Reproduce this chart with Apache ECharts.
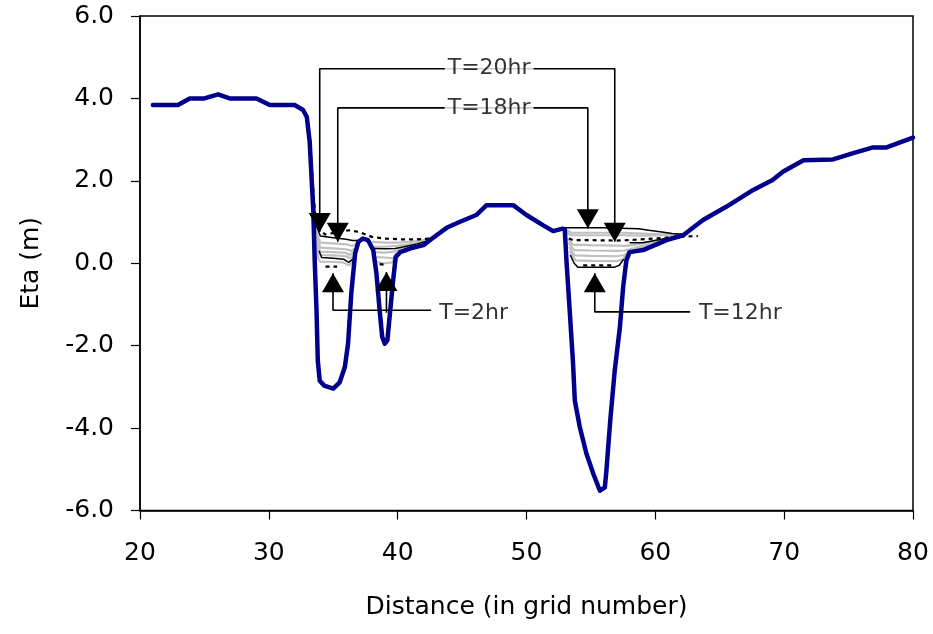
<!DOCTYPE html>
<html><head><meta charset="utf-8">
<script src="https://cdn.jsdelivr.net/npm/echarts@6/dist/echarts.min.js"></script>
<style>html,body{margin:0;padding:0;background:#fff}#c{width:933px;height:634px}</style>
</head><body><div id="c"></div>
<script>
// ---- bed profile ----
const bedDistance = [21.0,22.95,23.86,25.0,26.06,26.96,29.04,30.07,32.0,32.66,32.95,33.17,33.45,33.56,33.7,33.8,33.95,34.3,35.0,35.5,35.9,36.15,36.4,36.7,36.95,37.3,37.7,38.1,38.35,38.6,38.8,39.0,39.2,39.4,39.65,39.85,40.2,41.0,42.0,42.75,43.8,44.8,46.1,46.9,48.96,50.0,51.3,52.07,52.8,52.97,53.1,53.35,53.6,53.75,54.14,54.66,55.2,55.7,56.08,56.2,56.5,56.85,57.25,57.5,57.75,58.0,59.05,60.87,62.16,63.7,65.5,67.6,69.1,69.9,71.5,73.8,75.36,76.9,77.95,80.0];
const bedEta = [3.84,3.84,4.0,4.0,4.1,4.0,4.0,3.84,3.84,3.72,3.55,2.95,1.29,0.07,-1.14,-2.36,-2.85,-2.97,-3.04,-2.89,-2.52,-1.95,-0.73,0.24,0.52,0.6,0.56,0.32,-0.24,-1.14,-1.79,-1.95,-1.87,-1.22,-0.41,0.15,0.27,0.36,0.44,0.62,0.86,1.0,1.17,1.41,1.41,1.17,0.92,0.78,0.84,0.82,0.07,-1.14,-2.36,-3.33,-3.98,-4.63,-5.12,-5.52,-5.44,-5.04,-3.82,-2.6,-1.55,-0.58,0.07,0.27,0.32,0.56,0.68,1.05,1.37,1.78,2.02,2.22,2.5,2.52,2.67,2.81,2.81,3.05];

// ---- water-level snapshots (gray) ----
const grayLeft1 = [[33.45,1.8],[33.7,0.75],[34.0,0.5],[35.0,0.48],[36.0,0.46],[36.5,0.42],[36.9,0.5]];
const grayLeft2 = [[33.5,1.4],[33.75,0.6],[34.0,0.38],[35.0,0.36],[36.0,0.34],[36.4,0.3],[36.8,0.38]];
const grayLeft3 = [[33.55,1.0],[33.8,0.45],[34.0,0.28],[35.0,0.27],[36.0,0.25],[36.3,0.2],[36.75,0.3]];
const grayLeft4 = [[33.6,0.8],[33.8,0.3],[34.0,0.2],[35.0,0.19],[36.0,0.17],[36.3,0.12],[36.7,0.2]];
const grayLeft5 = [[33.6,0.6],[33.85,0.1],[34.0,0.04],[35.0,0.03],[35.8,0.02],[36.2,-0.05],[36.6,0.05]];
const grayMid1 = [[38.0,0.52],[39.0,0.5],[40.0,0.5],[41.0,0.52],[42.0,0.56],[42.9,0.64]];
const grayMid2 = [[38.1,0.4],[39.0,0.4],[39.9,0.42],[41.0,0.46],[42.0,0.52],[42.8,0.62]];
const grayMid3 = [[38.2,0.27],[39.0,0.26],[39.7,0.28],[40.5,0.38],[41.5,0.46],[42.6,0.6]];
const grayMid4 = [[38.25,0.15],[39.0,0.14],[39.7,0.12],[39.9,0.25]];
const grayMid5 = [[38.3,0.03],[39.0,0.0],[39.6,0.02],[39.8,0.15]];
const grayRight1 = [[53.1,0.8],[53.5,0.74],[55.0,0.74],[57.5,0.74],[59.0,0.72],[60.5,0.7],[62.0,0.7]];
const grayRight2 = [[53.1,0.74],[53.5,0.68],[55.0,0.68],[57.5,0.68],[59.0,0.67],[60.5,0.68],[62.0,0.7]];
const grayRight3 = [[53.2,0.6],[53.6,0.45],[55.0,0.44],[57.0,0.43],[57.7,0.42],[58.5,0.45],[60.0,0.55],[61.5,0.64],[62.3,0.7]];
const grayRight4 = [[53.25,0.5],[53.7,0.32],[55.0,0.31],[57.0,0.3],[57.6,0.31],[58.3,0.36],[60.0,0.5],[61.5,0.62],[62.3,0.69]];
const grayRight5 = [[53.3,0.4],[53.75,0.19],[55.0,0.18],[57.0,0.17],[57.6,0.2],[58.1,0.32],[60.0,0.5],[62.2,0.69]];
const grayRight6 = [[53.35,0.3],[53.8,0.07],[55.0,0.06],[57.0,0.05],[57.5,0.1],[57.9,0.3]];

// ---- water-level snapshots (black solid) ----
const blackLeftTop = [[33.7,0.9],[34.0,0.66],[35.0,0.62],[36.0,0.58],[36.5,0.55],[36.95,0.55]];
const blackLeftLow = [[33.9,0.3],[34.1,0.14],[35.0,0.12],[35.8,0.1],[36.2,0.02],[36.6,0.12]];
const blackMid = [[38.15,0.36],[39.0,0.35],[39.8,0.36],[40.5,0.4],[41.5,0.47],[42.5,0.56],[43.0,0.64]];
const blackRightTop = [[52.9,0.86],[54.0,0.86],[56.0,0.86],[58.7,0.84],[59.5,0.8],[60.5,0.76],[61.3,0.72],[62.3,0.7]];
const blackRightMid = [[58.0,0.5],[59.0,0.5],[60.5,0.58],[62.0,0.68]];
const blackRightLow = [[53.4,0.2],[53.7,0.0],[54.0,-0.1],[56.8,-0.1],[57.2,-0.05],[57.55,0.1]];

// ---- water-level snapshots (black dashed) ----
const dashTop = [[33.2,3.0],[33.45,1.8],[33.65,0.95],[34.35,0.7],[35.5,0.76],[36.2,0.8],[37.0,0.76],[38.0,0.64],[39.0,0.6],[40.2,0.58],[41.5,0.58],[42.5,0.6],[43.0,0.64]];
const dashLeftLow = [[34.4,-0.08],[35.3,-0.08]];
const dashMidLow = [[38.6,-0.02],[39.1,-0.04]];
const dashRight = [[53.3,0.6],[53.6,0.56],[55.0,0.56],[57.0,0.55],[58.5,0.57],[60.0,0.6],[61.5,0.64],[63.3,0.66]];
const dashRightLow = [[54.4,-0.05],[56.6,-0.05]];

// ---- annotations ----
const annLabels = ['T=20hr','T=18hr','T=2hr','T=12hr'];
const annLabelPos = [[47.1,4.72],[47.1,3.77],[45.9,-1.22],[66.6,-1.22]];
const lead20 = [[33.95,0.76],[33.95,4.72],[56.85,4.72],[56.85,0.52]];
const lead18 = [[35.35,0.52],[35.35,3.77],[54.76,3.77],[54.76,0.85]];
const lead2 = [[34.98,-0.24],[34.98,-1.14],[42.6,-1.14]];
const lead2b = [[39.13,-0.21],[39.13,-1.2]];
const lead12 = [[55.3,-0.24],[55.3,-1.18],[62.7,-1.18]];
const arrowDown = [[33.95,0.76],[35.35,0.52],[54.76,0.85],[56.85,0.52]];
const arrowUp = [[34.98,-0.24],[39.13,-0.21],[55.3,-0.24]];

// ---- axis ticks ----
const xMin = 20, xMax = 80, xStep = 10;
const yMin = -6, yMax = 6, yStep = 2;

const FONT = 'DejaVu Sans';
const series = [];
function prof(data, color, width, type, z) {
  series.push({type:'line', data:data, symbol:'none', smooth:false, z:z, silent:true,
    lineStyle:{color:color, width:width, type:type}});
}
[grayLeft1,grayLeft2,grayLeft3,grayLeft4,grayLeft5,grayMid1,grayMid2,grayMid3,grayMid4,grayMid5,
 grayRight1,grayRight2,grayRight3,grayRight4,grayRight5,grayRight6].forEach(d => prof(d,'#c0c0c0',2.2,'solid',2));
[blackLeftTop,blackLeftLow,blackMid,blackRightTop,blackRightMid,blackRightLow].forEach(d => prof(d,'#000',1.5,'solid',3));
[dashTop,dashLeftLow,dashMidLow,dashRight,dashRightLow].forEach(d => prof(d,'#000',2.2,[4,4],3));

series.push({type:'line', z:4, symbol:'none', smooth:false, silent:true,
  data: bedDistance.map((x,i)=>[x,bedEta[i]]),
  lineStyle:{color:'#00008c', width:4.5, join:'round', cap:'round'}});

[lead20,lead18,lead2,lead2b,lead12].forEach(d => series.push({type:'line', z:5, symbol:'none', silent:true,
  data:d, lineStyle:{color:'#000', width:1.6}}));

series.push({type:'scatter', z:6, silent:true, symbol:'triangle', symbolSize:[22,19], symbolRotate:180,
  symbolOffset:[0,-9.5], itemStyle:{color:'#000', opacity:1}, data:arrowDown});
series.push({type:'scatter', z:6, silent:true, symbol:'triangle', symbolSize:[22,19],
  symbolOffset:[0,9.5], itemStyle:{color:'#000', opacity:1}, data:arrowUp});

series.push({type:'scatter', z:7, silent:true, symbolSize:1, itemStyle:{color:'rgba(0,0,0,0)'},
  data: annLabels.map((t,i)=>({name:t, value:annLabelPos[i]})),
  label:{show:true, position:'inside', formatter:'{b}', color:'#000', fontFamily:FONT, fontSize:22,
    backgroundColor:'#fff', padding:[1,3]}});

const chart = echarts.init(document.getElementById('c'), null, {renderer:'canvas'});
chart.setOption({
  animation:false,
  backgroundColor:'#fff',
  grid:{left:140, right:20, top:16, bottom:123.5, show:true, borderColor:'#000', borderWidth:1.5, backgroundColor:'transparent'},
  xAxis:{type:'value', min:xMin, max:xMax, interval:xStep,
    name:'Distance (in grid number)', nameLocation:'middle', nameGap:84,
    nameTextStyle:{fontFamily:FONT, fontSize:25, color:'#000'},
    axisLine:{show:true, onZero:false, lineStyle:{color:'#000', width:1.5}},
    axisTick:{show:true, inside:false, length:9, lineStyle:{color:'#000', width:1.2}},
    axisLabel:{margin:30, fontFamily:FONT, fontSize:25, color:'#000'},
    splitLine:{show:false}},
  yAxis:{type:'value', min:yMin, max:yMax, interval:yStep,
    name:'Eta (m)', nameLocation:'middle', nameGap:96, nameRotate:90,
    nameTextStyle:{fontFamily:FONT, fontSize:25, color:'#000'},
    axisLine:{show:true, onZero:false, lineStyle:{color:'#000', width:1.5}},
    axisTick:{show:true, inside:false, length:9, lineStyle:{color:'#000', width:1.2}},
    axisLabel:{margin:26, fontFamily:FONT, fontSize:25, color:'#000', formatter:v=>v.toFixed(1)},
    splitLine:{show:false}},
  series:series
});
</script></body></html>
